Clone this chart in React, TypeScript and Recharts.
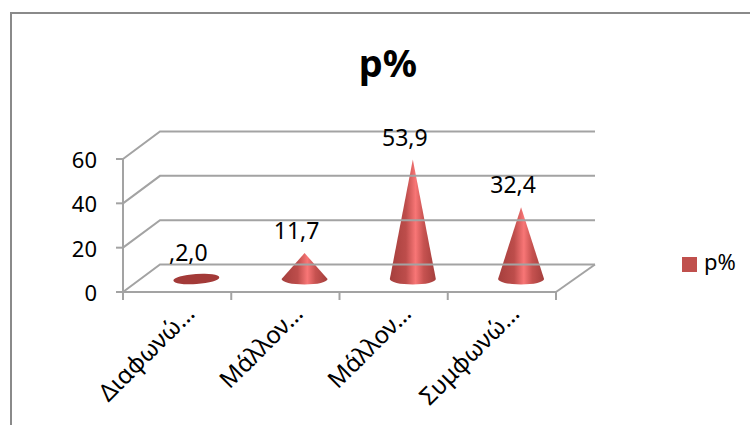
import React from "react";
import { ComposedChart, Bar, XAxis, YAxis, Legend, LabelList } from "recharts";

const categories = ["Διαφωνώ…", "Μάλλον…", "Μάλλον…", "Συμφωνώ…"];
const values = [2.0, 11.7, 53.9, 32.4];
const valueLabels = [",2,0", "11,7", "53,9", "32,4"];
const yTicks = [0, 20, 40, 60];
const seriesName = "p%";

const rows = categories.map((c, i) => ({ idx: i, category: c, value: values[i] }));

const FONT = "'Noto Sans', sans-serif";
const GRID = "#A3A3A3";
const DEPTH_X = 37;
const DEPTH_Y = 27.5;
const BASE_DX = 19;
const BASE_DY = 13;
const RX = 23;
const RY = 5.5;

const YTick = (props: any) => {
  const { y, payload } = props;
  const ax = 123;
  const py = y;
  return (
    <g>
      <line x1={ax - 7} y1={py} x2={ax} y2={py} stroke={GRID} strokeWidth={2} />
      <polyline
        points={`${ax},${py} ${ax + DEPTH_X},${py - DEPTH_Y} 595,${py - DEPTH_Y}`}
        fill="none"
        stroke={GRID}
        strokeWidth={2}
      />
      {payload.value === 0 ? (
        <line x1={595} y1={py - DEPTH_Y} x2={556} y2={py} stroke={GRID} strokeWidth={2} />
      ) : null}
      <text x={97} y={py + 9} textAnchor="end" fontFamily={FONT} fontSize={22} fill="#000">
        {payload.value}
      </text>
    </g>
  );
};

const XTick = (props: any) => {
  const { x, y, payload, width, visibleTicksCount, index } = props;
  const band = width / visibleTicksCount;
  const axisY = 292;
  const ex = x + 19;
  const ey = y + 14;
  return (
    <g>
      <line x1={x - band / 2} y1={axisY} x2={x - band / 2} y2={axisY + 8} stroke={GRID} strokeWidth={2} />
      {index === visibleTicksCount - 1 ? (
        <line x1={x + band / 2} y1={axisY} x2={x + band / 2} y2={axisY + 8} stroke={GRID} strokeWidth={2} />
      ) : null}
      <text
        x={ex}
        y={ey}
        textAnchor="end"
        fontFamily={FONT}
        fontSize={24}
        fill="#000"
        transform={`rotate(-45 ${ex} ${ey})`}
      >
        {payload.value}
      </text>
    </g>
  );
};

const Cone = (props: any) => {
  const { x, y, width, height } = props;
  const cx = x + width / 2 + BASE_DX;
  const base = y + height - BASE_DY;
  const tip = y - BASE_DY;
  if (height <= RY) {
    return (
      <ellipse
        cx={cx}
        cy={base}
        rx={RX}
        ry={RY - 0.5}
        fill="#A33A38"
        transform={`rotate(-4 ${cx} ${base})`}
      />
    );
  }
  return (
    <path
      d={`M${cx - RX},${base} L${cx},${tip} L${cx + RX},${base} A${RX},${RY} 0 0 1 ${cx - RX},${base} Z`}
      fill="url(#coneFill)"
    />
  );
};

const ValueLabel = (props: any) => {
  const { x, y, width, index } = props;
  const cx = x + width / 2 + BASE_DX - 8;
  return (
    <text x={cx} y={y - BASE_DY - 14} textAnchor="middle" fontFamily={FONT} fontSize={23} fill="#000">
      {valueLabels[index]}
    </text>
  );
};

export default function App() {
  return (
    <div style={{ position: "absolute", left: 0, top: 0, width: 750, height: 425, overflow: "hidden", background: "#fff" }}>
      <div
        style={{
          position: "absolute",
          left: 10,
          top: 12,
          width: 760,
          height: 440,
          border: "2px solid #8A8A8A",
          boxSizing: "border-box",
        }}
      />
      <ComposedChart
        width={750}
        height={425}
        data={rows}
        margin={{ left: 0, right: 126, top: 159, bottom: 0 }}
        style={{ position: "absolute", left: 0, top: 0 }}
      >
        <defs>
          <linearGradient id="coneFill" x1="0" y1="0" x2="1" y2="0">
            <stop offset="0" stopColor="#A53F3D" />
            <stop offset="0.35" stopColor="#BD4D4B" />
            <stop offset="0.56" stopColor="#F87676" />
            <stop offset="0.74" stopColor="#C65250" />
            <stop offset="1" stopColor="#A33E3C" />
          </linearGradient>
        </defs>
        <text x={388} y={77} textAnchor="middle" fontFamily={FONT} fontWeight={700} fontSize={38} fill="#000">
          p%
        </text>
        <XAxis
          dataKey="category"
          interval={0}
          height={133}
          axisLine={{ stroke: GRID, strokeWidth: 2 }}
          tickLine={false}
          tickSize={7}
          tick={<XTick />}
        />
        <YAxis
          type="number"
          domain={[0, 60]}
          ticks={yTicks}
          width={123}
          axisLine={{ stroke: GRID, strokeWidth: 2 }}
          tickLine={false}
          tick={<YTick />}
        />
        <Legend
          layout="vertical"
          align="right"
          verticalAlign="middle"
          iconType="square"
          iconSize={15}
          wrapperStyle={{ position: "absolute", left: 682, top: 246, width: 68, fontFamily: FONT, fontSize: 22 }}
          formatter={(v: string) => <span style={{ color: "#000", marginLeft: 3 }}>{v}</span>}
        />
        <Bar
          dataKey="value"
          name={seriesName}
          fill="#C0504D"
          isAnimationActive={false}
          shape={<Cone />}
        >
          <LabelList dataKey="value" content={<ValueLabel />} />
        </Bar>
      </ComposedChart>
    </div>
  );
}
